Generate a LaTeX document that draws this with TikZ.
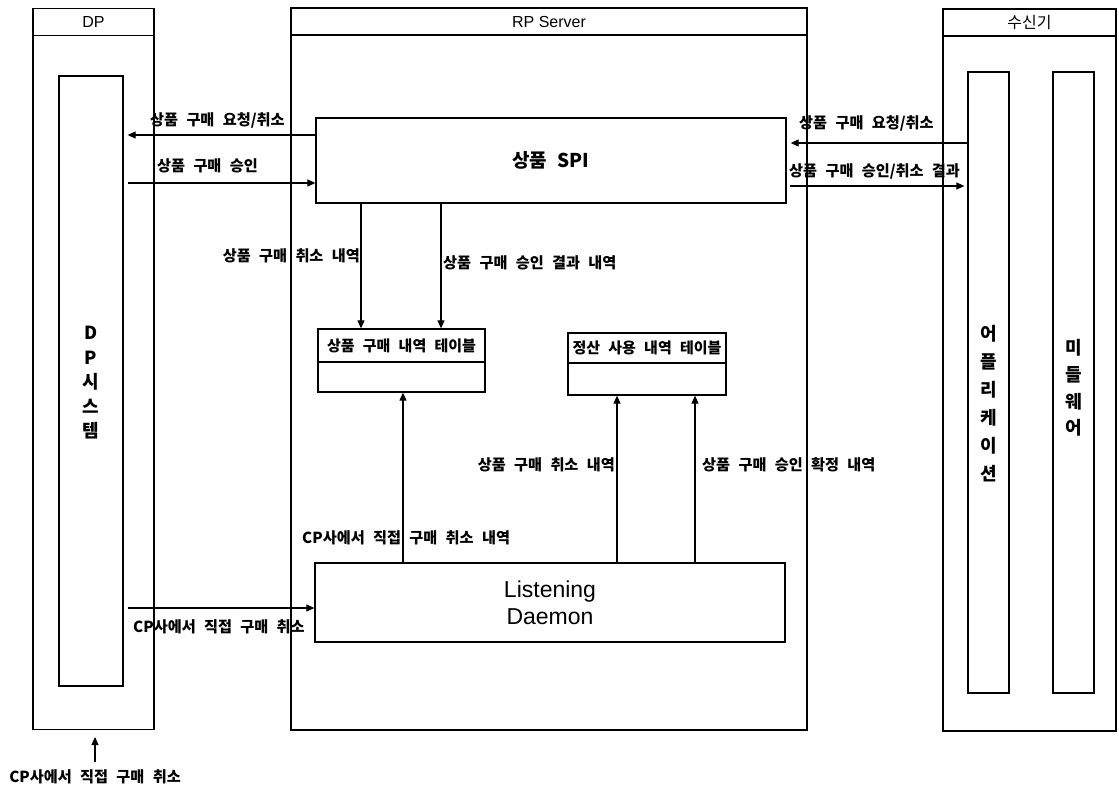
\documentclass[tikz,border=0pt]{standalone}
\usepackage{fontspec}
\setmainfont{Noto Sans CJK KR}[WordSpace=2.4]
\newfontfamily\latinfont{Liberation Sans}
\usetikzlibrary{arrows.meta}
\begin{document}
\begin{tikzpicture}[x=1pt,y=-1pt,
  box/.style={draw, line width=1.3pt, inner sep=0pt, rectangle},
  arr/.style={line width=1.1pt, -{Triangle[length=8pt,width=7pt]}},
  lbl/.style={font=\bfseries\fontsize{15.2}{17}\selectfont, inner sep=0pt},
  hdr/.style={font=\latinfont\fontsize{16}{18}\selectfont},
  vtxt/.style={font=\bfseries\fontsize{18}{#1}\selectfont, align=center, inner sep=0pt},
  ]
\useasboundingbox (0,0) rectangle (1119,786);
\fill[white] (0,0) rectangle (1119,786);

% helper coordinates
\coordinate (r135) at (0,135);
\coordinate (r183) at (0,183);
\coordinate (r143) at (0,143);
\coordinate (r186) at (0,186);
\coordinate (r608) at (0,608);
\coordinate (c361) at (361,0);
\coordinate (c441) at (441,0);
\coordinate (c403) at (403,0);
\coordinate (c617) at (617,0);
\coordinate (c695) at (695,0);

% DP
\node[box, minimum width=121pt, minimum height=721pt] (dp) at (93.5,369) {};
\node[box, hdr, minimum width=121pt, minimum height=27pt, anchor=north] (dph) at (dp.north) {DP};
\node[box, minimum width=64pt, minimum height=610pt] (dpin) at (91,381) {};
\node[vtxt=24.5] (dptxt) at (91,383) {D\\P\\시\\스\\템};

% RP Server
\node[box, minimum width=516pt, minimum height=722pt] (rp) at (549,369) {};
\node[box, hdr, minimum width=516pt, minimum height=27pt, anchor=north] (rph) at (rp.north) {RP Server};

% Receiver
\node[box, minimum width=173pt, minimum height=722pt] (rx) at (1029.5,370) {};
\node[box, minimum width=173pt, minimum height=27pt, anchor=north, font=\fontsize{16}{18}\selectfont] (rxh) at (rx.north) {수신기};
\node[box, minimum width=41pt, minimum height=621pt] (app) at (988.5,382.5) {};
\node[vtxt=28] (apptxt) at (988.5,404) {어\\플\\리\\케\\이\\션};
\node[box, minimum width=41pt, minimum height=621pt] (mw) at (1073.5,382.5) {};
\node[vtxt=26.7] (mwtxt) at (1073.5,388) {미\\들\\웨\\어};

% SPI
\node[box, minimum width=470pt, minimum height=85pt, font=\bfseries\fontsize{19}{22}\selectfont] (spi) at (551,160.5) {상품 SPI};

% Daemon
\node[box, minimum width=470pt, minimum height=79pt, align=center, font=\latinfont\fontsize{23}{27}\selectfont] (ld) at (550,602.5) {Listening\\Daemon};

% Tables
\node[box, minimum width=167pt, minimum height=63pt] (t1) at (401.5,360.5) {};
\node[box, lbl, font=\bfseries\fontsize{15}{17}\selectfont, minimum width=167pt, minimum height=33pt, anchor=north] (t1h) at (t1.north) {상품 구매 내역 테이블};
\node[box, minimum width=158pt, minimum height=62pt] (t2) at (647,364) {};
\node[box, lbl, font=\bfseries\fontsize{15}{17}\selectfont, minimum width=158pt, minimum height=30pt, anchor=north] (t2h) at (t2.north) {정산 사용 내역 테이블};

% Horizontal arrows
\draw[arr, shorten >=4pt] (spi.west |- r135) -- (dpin.east |- r135);
\draw[arr, shorten <=4pt] (dpin.east |- r183) -- (spi.west |- r183);
\draw[arr, shorten >=4pt] (app.west |- r143) -- (spi.east |- r143);
\draw[arr, shorten <=3pt, shorten >=3pt] (spi.east |- r186) -- (app.west |- r186);
\draw[arr, shorten <=4pt] (dpin.east |- r608) -- (ld.west |- r608);

% Vertical arrows
\draw[arr] (spi.south -| c361) -- (t1.north -| c361);
\draw[arr] (spi.south -| c441) -- (t1.north -| c441);
\draw[arr] (ld.north -| c403) -- (t1.south -| c403);
\draw[arr] (ld.north -| c617) -- (t2.south -| c617);
\draw[arr] (ld.north -| c695) -- (t2.south -| c695);

% Bottom external arrow
\coordinate (bs) at (95,762);
\coordinate (be) at (95,737);
\draw[arr] (bs) -- (be);

% Labels
\node[lbl, anchor=west] (l1) at (150,120) {상품 구매 요청/취소};
\node[lbl, anchor=west] (l2) at (157,166) {상품 구매 승인};
\node[lbl, anchor=west] (l3) at (799,123) {상품 구매 요청/취소};
\node[lbl, anchor=west] (l4) at (789,171) {상품 구매 승인/취소 결과};
\node[lbl, anchor=east] (l5) at (360,256) {상품 구매 취소 내역};
\node[lbl, anchor=west] (l6) at (443,263) {상품 구매 승인 결과 내역};
\node[lbl, anchor=east] (l7) at (615,465) {상품 구매 취소 내역};
\node[lbl, anchor=west] (l8) at (702,465) {상품 구매 승인 확정 내역};
\node[lbl, anchor=west] (l9) at (302,538) {CP사에서 직접 구매 취소 내역};
\node[lbl, anchor=west] (l10) at (133,627) {CP사에서 직접 구매 취소};
\node[lbl] (l11) at (95,777) {CP사에서 직접 구매 취소};
\end{tikzpicture}
\end{document}
